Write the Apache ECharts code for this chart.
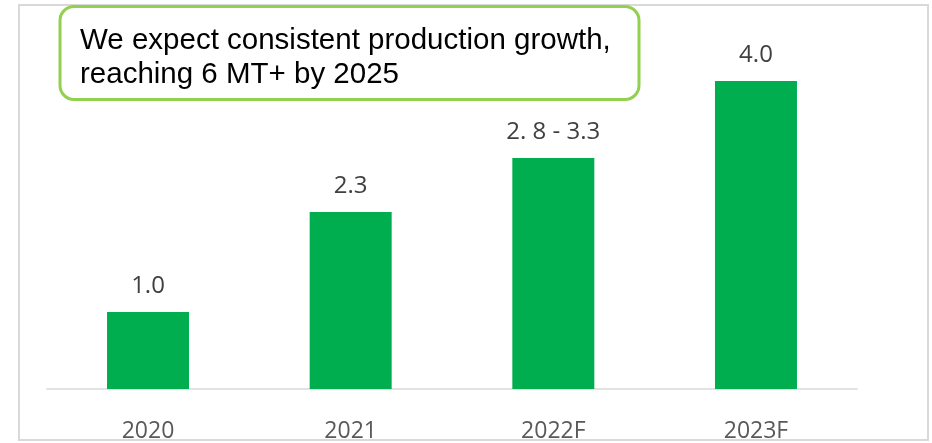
<!DOCTYPE html>
<html>
<head>
<meta charset="utf-8">
<style>
  html, body { margin: 0; padding: 0; background: #ffffff; }
  #chart { width: 932px; height: 443px; }
</style>
<script src="https://cdn.jsdelivr.net/npm/echarts@6/dist/echarts.min.js"></script>
</head>
<body>
<div id="chart"></div>
<script>
const categories = ['2020', '2021', '2022F', '2023F'];
const values = [1.0, 2.3, 3.0, 4.0];
const valueLabels = ['1.0', '2.3', '2. 8 - 3.3', '4.0'];
const calloutLines = ['We expect consistent production growth,', 'reaching 6 MT+ by 2025'];

const chart = echarts.init(document.getElementById('chart'), null, { renderer: 'canvas' });

const option = {
  animation: false,
  backgroundColor: '#ffffff',
  grid: { left: 46.7, right: 74.7, top: 4, bottom: 51.5, containLabel: false },
  xAxis: {
    type: 'category',
    data: categories,
    axisLine: { show: true, lineStyle: { color: '#d9d9d9', width: 1.5 } },
    axisTick: { show: false },
    axisLabel: {
      color: '#595959',
      fontFamily: 'Open Sans',
      fontSize: 23,
      margin: 31
    }
  },
  yAxis: {
    type: 'value',
    min: 0,
    max: 5,
    show: false,
    splitLine: { show: false }
  },
  series: [{
    type: 'bar',
    data: values,
    barWidth: 82,
    itemStyle: { color: '#00AE50' },
    label: {
      show: true,
      position: 'top',
      distance: 14,
      color: '#404040',
      fontFamily: 'Open Sans',
      fontSize: 24,
      formatter: function (p) { return valueLabels[p.dataIndex]; }
    }
  }],
  graphic: [
    {
      type: 'rect',
      z: 0,
      silent: true,
      shape: { x: 19, y: 5, width: 909, height: 435 },
      style: { fill: 'none', stroke: '#d9d9d9', lineWidth: 2 }
    },
    {
      type: 'rect',
      z: 10,
      silent: true,
      shape: { x: 60, y: 6.5, width: 579, height: 93, r: 14 },
      style: { fill: '#ffffff', stroke: '#92D050', lineWidth: 3 }
    },
    {
      type: 'text',
      z: 11,
      silent: true,
      left: 80,
      top: 24,
      style: {
        text: calloutLines.join('\n'),
        fill: '#000000',
        font: '29.5px "Liberation Sans", Arial, sans-serif',
        lineHeight: 34
      }
    }
  ]
};

chart.setOption(option);
</script>
</body>
</html>
